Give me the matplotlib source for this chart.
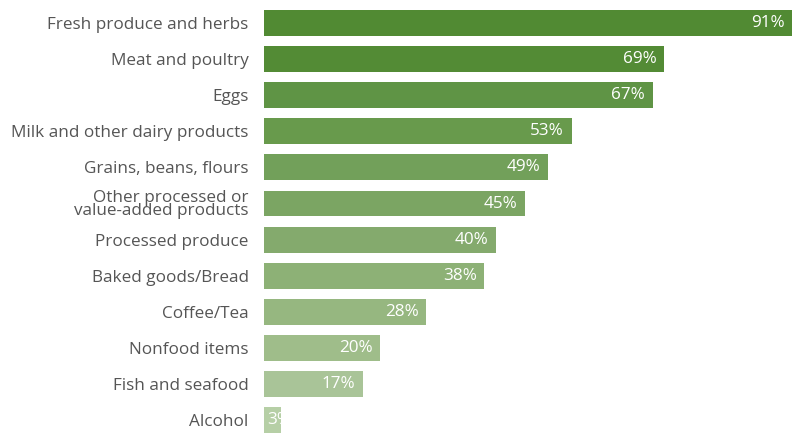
import numpy as np
import matplotlib.pyplot as plt

plt.rcParams['font.family'] = ['Open Sans', 'DejaVu Sans']

# Share of respondents by product category
categories = ["Fresh produce and herbs", "Meat and poultry", "Eggs",
              "Milk and other dairy products", "Grains, beans, flours",
              "Other processed or\nvalue-added products", "Processed produce",
              "Baked goods/Bread", "Coffee/Tea", "Nonfood items",
              "Fish and seafood", "Alcohol"]
values = [91, 69, 67, 53, 49, 45, 40, 38, 28, 20, 17, 3]
colors = ["#518a33", "#538b35", "#5f9445", "#689a4c", "#72a05a", "#7ba563",
          "#84aa6d", "#8db176", "#96b780", "#9fbd8a", "#a9c498", "#b6cfa6"]

fig = plt.figure(figsize=(7.92, 4.33), dpi=100)
ax = fig.add_axes([264 / 792, 0, 528 / 792, 1])

y = np.arange(len(categories))
ax.barh(y, values, height=0.72, color=colors)

for yi, v in zip(y, values):
    if v < 8:
        ax.text(0.6, yi, f"{v}%", ha='left', va='center', color='white',
                fontsize=12.3)
    else:
        ax.text(v - 1.3, yi, f"{v}%", ha='right', va='center', color='white',
                fontsize=12.3)

ax.set_xlim(0, 91)
ax.set_ylim(11.357, -0.637)
ax.set_yticks(y)
ax.set_yticklabels(categories, fontsize=12.3, color='#555555', linespacing=0.82)
ax.tick_params(axis='y', length=0, pad=11)
ax.set_xticks([])
for s in ax.spines.values():
    s.set_visible(False)

fig.savefig("out.png", dpi=100)
